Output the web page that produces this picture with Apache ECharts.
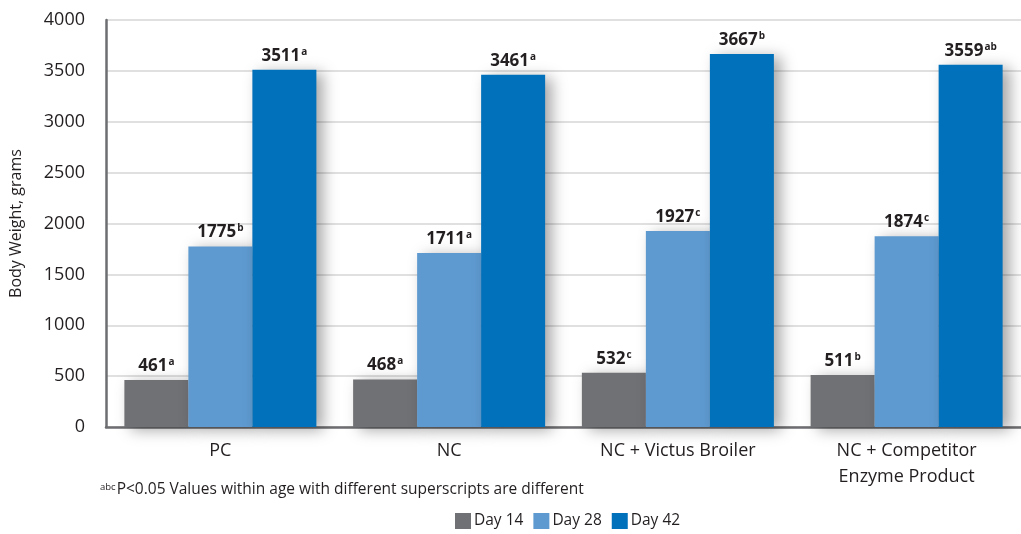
<!DOCTYPE html>
<html>
<head>
<meta charset="utf-8">
<script src="https://cdn.jsdelivr.net/npm/echarts@6/dist/echarts.min.js"></script>
<style>
  html, body { margin: 0; padding: 0; background: #ffffff; }
  #chart { width: 1021px; height: 534px; }
</style>
</head>
<body>
<div id="chart"></div>
<script>
// Treatments on the category axis
const categories = ['PC', 'NC', 'NC + Victus Broiler', 'NC + Competitor\nEnzyme Product'];

// Mean body weight (grams) by age
const day14 = [461, 468, 532, 511];
const day28 = [1775, 1711, 1927, 1874];
const day42 = [3511, 3461, 3667, 3559];

// Significance superscripts for each value
const sup14 = ['a', 'a', 'c', 'b'];
const sup28 = ['b', 'a', 'c', 'c'];
const sup42 = ['a', 'a', 'b', 'ab'];

const seriesNames = ['Day 14', 'Day 28', 'Day 42'];
const yTicks = [0, 500, 1000, 1500, 2000, 2500, 3000, 3500, 4000];

const colors = ['#707174', '#5e9ad0', '#0071ba'];
const textDark = '#231f20';
const uiFont = "'Open Sans', 'Noto Sans', sans-serif";

function makeSeries(name, values, sups, color) {
  return {
    name: name,
    type: 'bar',
    barWidth: 64,
    barGap: '0%',
    data: values.map((v, i) => ({ value: v, sup: sups[i] })),
    itemStyle: {
      color: color,
      shadowColor: 'rgba(0,0,0,0.35)',
      shadowBlur: 14,
      shadowOffsetX: 7,
      shadowOffsetY: 3
    },
    label: {
      show: true,
      position: 'top',
      distance: 5,
      formatter: p => '{v|' + p.value + '}{s|' + p.data.sup + '}',
      rich: {
        v: { fontFamily: uiFont, fontWeight: 'bold', fontSize: 17, color: textDark },
        s: { fontFamily: uiFont, fontWeight: 'bold', fontSize: 10, color: textDark, verticalAlign: 'top', padding: [0, 0, 8, 1] }
      }
    },
    z: 2
  };
}

const chart = echarts.init(document.getElementById('chart'), null, { renderer: 'canvas' });

chart.setOption({
  animation: false,
  backgroundColor: '#ffffff',
  color: colors,
  grid: { left: 105, right: -4, top: 20, bottom: 107, containLabel: false },
  legend: {
    data: seriesNames,
    bottom: 0,
    left: 450,
    itemWidth: 16,
    itemHeight: 16,
    itemGap: 10,
    icon: 'rect',
    textStyle: { fontFamily: uiFont, fontSize: 15.5, color: textDark, padding: [0, 0, 0, -2] }
  },
  xAxis: {
    type: 'category',
    data: categories,
    axisLine: { show: true, lineStyle: { color: '#6d6e71', width: 2.5 } },
    axisTick: { show: false },
    axisLabel: {
      fontFamily: uiFont,
      fontSize: 18,
      color: textDark,
      margin: 11,
      lineHeight: 26
    }
  },
  yAxis: {
    type: 'value',
    min: yTicks[0],
    max: yTicks[yTicks.length - 1],
    interval: yTicks[1] - yTicks[0],
    name: 'Body Weight, grams',
    nameLocation: 'middle',
    nameGap: 82,
    nameRotate: 90,
    nameTextStyle: { fontFamily: uiFont, fontSize: 16, color: textDark },
    axisLine: { show: true, lineStyle: { color: '#6d6e71', width: 2.5 } },
    axisTick: { show: false },
    axisLabel: { fontFamily: uiFont, fontSize: 18, color: textDark, margin: 21, formatter: v => String(v) },
    splitLine: { show: true, lineStyle: { color: '#d6d6d6', width: 1.5 } }
  },
  graphic: [{
    type: 'text',
    left: 100,
    top: 482,
    style: {
      text: '{s|abc}{t|P<0.05 Values within age with different superscripts are different}',
      rich: {
        s: { fontFamily: uiFont, fontSize: 9.5, fill: textDark, verticalAlign: 'top', padding: [0, 1, 6, 0] },
        t: { fontFamily: uiFont, fontSize: 15.5, fill: textDark }
      }
    }
  }],
  series: [
    makeSeries(seriesNames[0], day14, sup14, colors[0]),
    makeSeries(seriesNames[1], day28, sup28, colors[1]),
    makeSeries(seriesNames[2], day42, sup42, colors[2])
  ]
});
</script>
</body>
</html>
